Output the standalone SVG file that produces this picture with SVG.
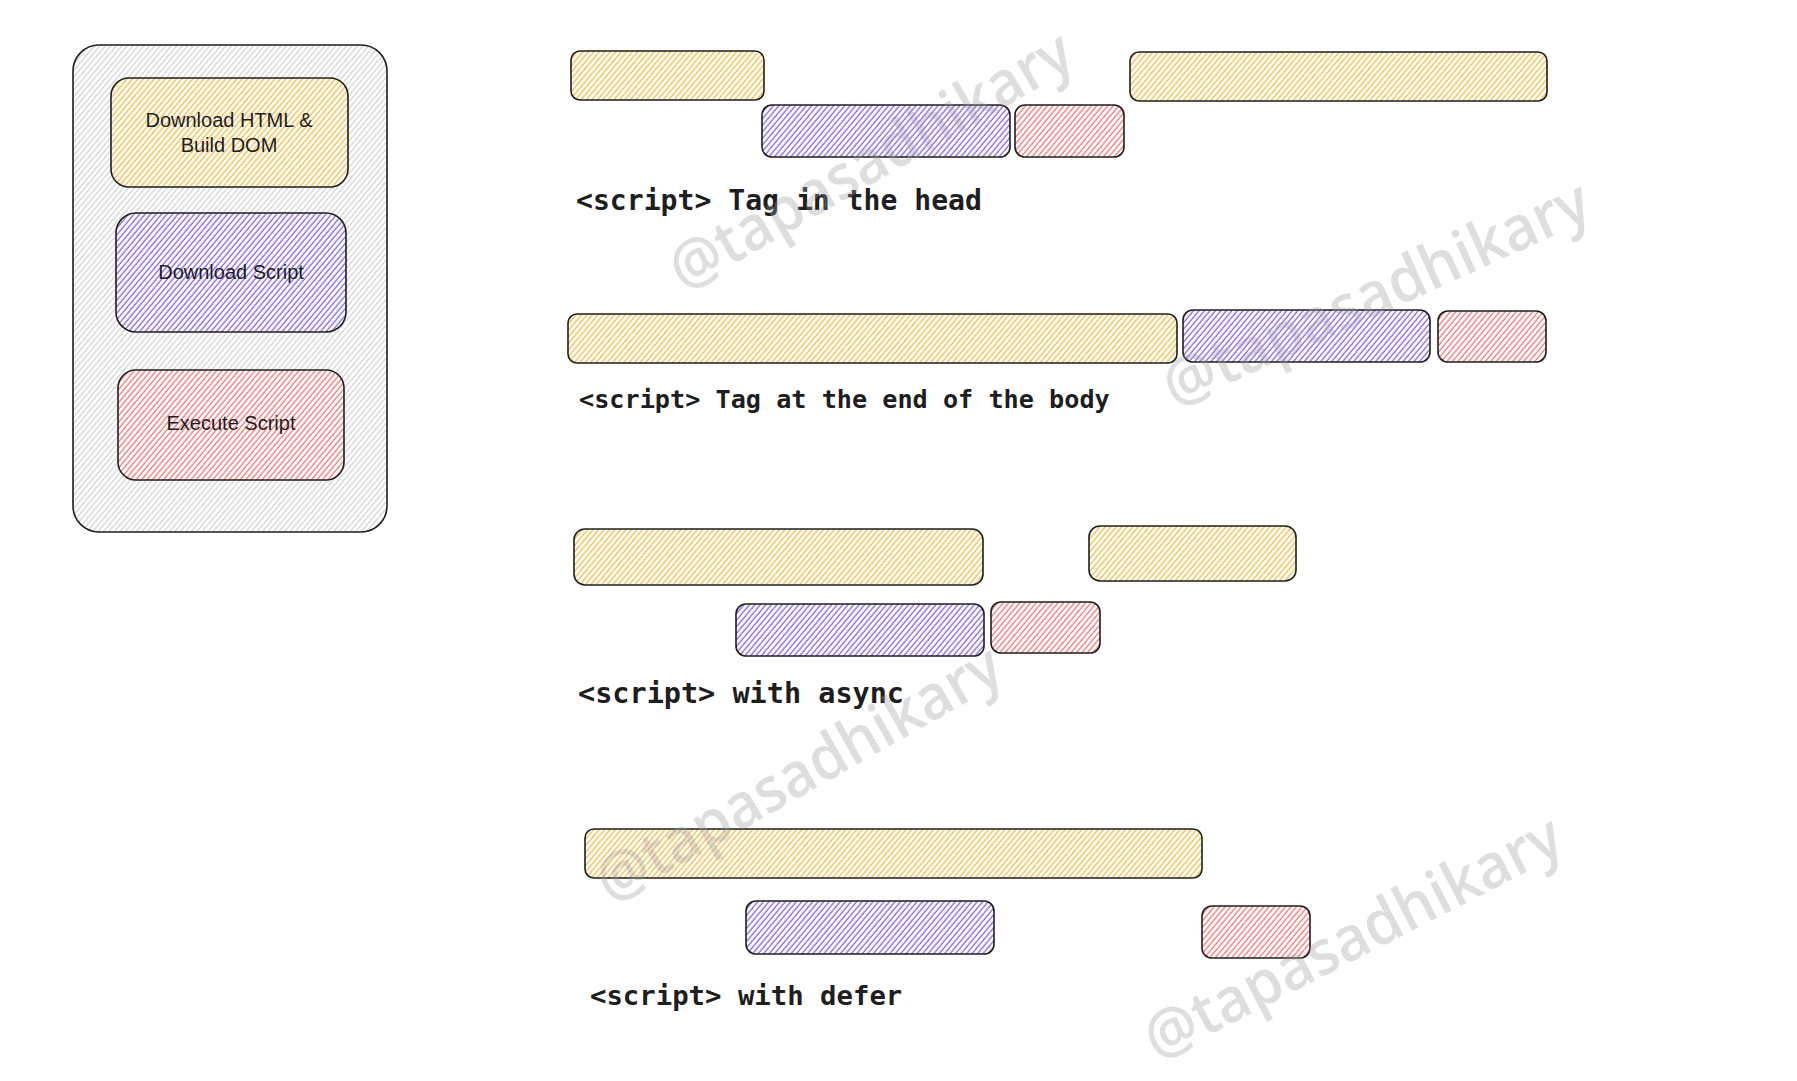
<svg xmlns="http://www.w3.org/2000/svg" width="1797" height="1081" viewBox="0 0 1797 1081">
<style>
  .bar { stroke: #1e1e1e; stroke-width: 1.6; }
  .y { fill: url(#hy); }
  .p { fill: url(#hp); }
  .r { fill: url(#hr); }
  .g { fill: url(#hg); }
  .legend { font-family: "Liberation Sans", "DejaVu Sans", sans-serif; font-size: 20px; fill: #1e1e1e; text-anchor: middle; }
  .code { font-family: "DejaVu Sans Mono", "Liberation Mono", monospace; font-weight: bold; fill: #1e1e1e; }
  .wm { font-family: "Open Sans", "Liberation Sans", sans-serif; font-size: 62px; font-weight: 600; fill: #9a9a9a; fill-opacity: 0.33; text-anchor: middle; }
</style>
<defs>
  <pattern id="hy" width="4.2" height="10" patternUnits="userSpaceOnUse" patternTransform="rotate(40)">
    <rect width="4.2" height="10" fill="#ffffff"/>
    <line x1="1" y1="0" x2="1" y2="10" stroke="#f5b022" stroke-width="1.1"/>
  </pattern>
  <pattern id="hp" width="4.2" height="10" patternUnits="userSpaceOnUse" patternTransform="rotate(40)">
    <rect width="4.2" height="10" fill="#ffffff"/>
    <line x1="1" y1="0" x2="1" y2="10" stroke="#7048e8" stroke-width="1.1"/>
  </pattern>
  <pattern id="hr" width="4.2" height="10" patternUnits="userSpaceOnUse" patternTransform="rotate(40)">
    <rect width="4.2" height="10" fill="#ffffff"/>
    <line x1="1" y1="0" x2="1" y2="10" stroke="#f25c5c" stroke-width="1.1"/>
  </pattern>
  <pattern id="hg" width="4.2" height="10" patternUnits="userSpaceOnUse" patternTransform="rotate(40)">
    <rect width="4.2" height="10" fill="#ffffff"/>
    <line x1="1" y1="0" x2="1" y2="10" stroke="#c4c8cd" stroke-width="1"/>
  </pattern>
</defs>
<rect width="1797" height="1081" fill="#ffffff"/>

<g id="legend">
  <rect class="bar g" x="73" y="45" width="314" height="487" rx="26"/>
  <g id="legend-html">
    <rect class="bar y" x="111" y="78" width="237" height="109" rx="18"/>
    <text class="legend" x="229" y="127">Download HTML &amp;</text>
    <text class="legend" x="229" y="152">Build DOM</text>
  </g>
  <g id="legend-download">
    <rect class="bar p" x="116" y="213" width="230" height="119" rx="20"/>
    <text class="legend" x="231" y="279">Download Script</text>
  </g>
  <g id="legend-execute">
    <rect class="bar r" x="118" y="370" width="226" height="110" rx="18"/>
    <text class="legend" x="231" y="430">Execute Script</text>
  </g>
</g>

<g id="row-head">
  <rect id="head-html1" class="bar y" x="571" y="51" width="193" height="49" rx="9"/>
  <rect id="head-download" class="bar p" x="762" y="105" width="248" height="52" rx="10"/>
  <rect id="head-execute" class="bar r" x="1015" y="105" width="109" height="52" rx="10"/>
  <rect id="head-html2" class="bar y" x="1130" y="52" width="417" height="49" rx="9"/>
  <text class="code" x="576" y="210" font-size="28.1">&lt;script&gt; Tag in the head</text>
</g>

<g id="row-body">
  <rect id="body-html" class="bar y" x="568" y="314" width="609" height="49" rx="9"/>
  <rect id="body-download" class="bar p" x="1183" y="310" width="247" height="52" rx="10"/>
  <rect id="body-execute" class="bar r" x="1438" y="311" width="108" height="51" rx="10"/>
  <text class="code" x="579" y="408" font-size="25.2">&lt;script&gt; Tag at the end of the body</text>
</g>

<g id="row-async">
  <rect id="async-html1" class="bar y" x="574" y="529" width="409" height="56" rx="11"/>
  <rect id="async-download" class="bar p" x="736" y="604" width="248" height="52" rx="10"/>
  <rect id="async-execute" class="bar r" x="991" y="602" width="109" height="51" rx="10"/>
  <rect id="async-html2" class="bar y" x="1089" y="526" width="207" height="55" rx="11"/>
  <text class="code" x="578" y="703" font-size="28.5">&lt;script&gt; with async</text>
</g>

<g id="row-defer">
  <rect id="defer-html" class="bar y" x="585" y="829" width="617" height="49" rx="9"/>
  <rect id="defer-download" class="bar p" x="746" y="901" width="248" height="53" rx="10"/>
  <rect id="defer-execute" class="bar r" x="1202" y="906" width="108" height="52" rx="10"/>
  <text class="code" x="590" y="1005" font-size="27.3">&lt;script&gt; with defer</text>
</g>

<g id="watermarks">
  <text class="wm" transform="translate(873 165) rotate(-30)" y="16" textLength="455" lengthAdjust="spacingAndGlyphs">@tapasadhikary</text>
  <text class="wm" transform="translate(1378 298) rotate(-24.5)" y="16" textLength="462" lengthAdjust="spacingAndGlyphs">@tapasadhikary</text>
  <text class="wm" transform="translate(801 778) rotate(-29.6)" y="16" textLength="456" lengthAdjust="spacingAndGlyphs">@tapasadhikary</text>
  <text class="wm" transform="translate(1355 942) rotate(-27.2)" y="16" textLength="461" lengthAdjust="spacingAndGlyphs">@tapasadhikary</text>
</g>

<g id="connectors"/>
</svg>
